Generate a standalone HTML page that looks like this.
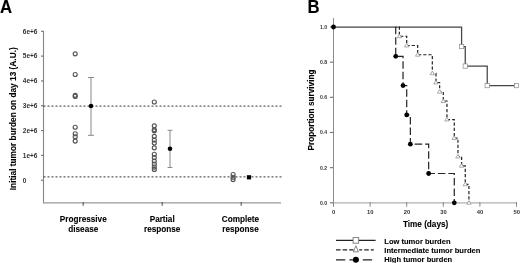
<!DOCTYPE html><html><head><meta charset="utf-8"><style>html,body{margin:0;padding:0;background:#fff;}svg{display:block;}text{font-family:"Liberation Sans",sans-serif;}.b{stroke:#000;stroke-width:0.1px;}</style></head><body>
<svg width="520" height="263" viewBox="0 0 520 263">
<defs><filter id="bl" x="0" y="0" width="520" height="263" filterUnits="userSpaceOnUse"><feGaussianBlur stdDeviation="0.3 0.4"/></filter></defs>
<rect width="520" height="263" fill="#fff"/>
<g filter="url(#bl)">
<text transform="translate(0,12.8) scale(0.93,1)" font-size="18" font-weight="bold" fill="#000" class="b">A</text>
<text transform="translate(307.4,12.8) scale(0.93,1)" font-size="18" font-weight="bold" fill="#000" class="b">B</text>
<line x1="43.5" y1="31" x2="43.5" y2="203.3" stroke="#858585" stroke-width="1.1"/>
<line x1="43" y1="202.8" x2="281" y2="202.8" stroke="#999" stroke-width="1.3"/>
<line x1="41" y1="31.30" x2="43.5" y2="31.30" stroke="#7a7a7a" stroke-width="1.2"/>
<text x="22.8" y="33.60" font-size="6.5" font-weight="bold" fill="#333">6e+6</text>
<line x1="41" y1="56.12" x2="43.5" y2="56.12" stroke="#7a7a7a" stroke-width="1.2"/>
<text x="22.8" y="58.42" font-size="6.5" font-weight="bold" fill="#333">5e+6</text>
<line x1="41" y1="80.94" x2="43.5" y2="80.94" stroke="#7a7a7a" stroke-width="1.2"/>
<text x="22.8" y="83.24" font-size="6.5" font-weight="bold" fill="#333">4e+6</text>
<line x1="41" y1="105.76" x2="43.5" y2="105.76" stroke="#7a7a7a" stroke-width="1.2"/>
<text x="22.8" y="108.06" font-size="6.5" font-weight="bold" fill="#333">3e+6</text>
<line x1="41" y1="130.58" x2="43.5" y2="130.58" stroke="#7a7a7a" stroke-width="1.2"/>
<text x="22.8" y="132.88" font-size="6.5" font-weight="bold" fill="#333">2e+6</text>
<line x1="41" y1="155.40" x2="43.5" y2="155.40" stroke="#7a7a7a" stroke-width="1.2"/>
<text x="22.8" y="157.70" font-size="6.5" font-weight="bold" fill="#333">1e+6</text>
<line x1="41" y1="180.22" x2="43.5" y2="180.22" stroke="#7a7a7a" stroke-width="1.2"/>
<text x="22.8" y="182.52" font-size="6.5" font-weight="bold" fill="#333">0</text>
<line x1="83.2" y1="202" x2="83.2" y2="205.7" stroke="#555" stroke-width="1.1"/>
<line x1="162.2" y1="202" x2="162.2" y2="205.7" stroke="#555" stroke-width="1.1"/>
<line x1="241.2" y1="202" x2="241.2" y2="205.7" stroke="#555" stroke-width="1.1"/>
<line x1="43.5" y1="106.1" x2="281.5" y2="106.1" stroke="#333" stroke-width="1" stroke-dasharray="2 2"/>
<line x1="43.5" y1="176.9" x2="281.5" y2="176.9" stroke="#333" stroke-width="1" stroke-dasharray="2 2"/>
<text x="83.3" y="222" font-size="8.2" font-weight="bold" text-anchor="middle" fill="#000" class="b">Progressive</text>
<text x="83.3" y="231.7" font-size="8.2" font-weight="bold" text-anchor="middle" fill="#000" class="b">disease</text>
<text x="162.2" y="222" font-size="8.2" font-weight="bold" text-anchor="middle" fill="#000" class="b">Partial</text>
<text x="162.2" y="231.7" font-size="8.2" font-weight="bold" text-anchor="middle" fill="#000" class="b">response</text>
<text x="240.5" y="222" font-size="8.2" font-weight="bold" text-anchor="middle" fill="#000" class="b">Complete</text>
<text x="240.5" y="231.7" font-size="8.2" font-weight="bold" text-anchor="middle" fill="#000" class="b">response</text>
<text transform="translate(15.8,118.75) rotate(-90)" font-size="8.3" font-weight="bold" text-anchor="middle" fill="#000" class="b">Initial tumor burden on day 13 (A.U.)</text>
<circle cx="75.2" cy="53.8" r="2.0" fill="none" stroke="#555" stroke-width="1.15"/>
<circle cx="75.2" cy="74.5" r="2.0" fill="none" stroke="#555" stroke-width="1.15"/>
<circle cx="75.2" cy="95.3" r="2.0" fill="none" stroke="#555" stroke-width="1.15"/>
<circle cx="75.2" cy="96.5" r="2.0" fill="none" stroke="#555" stroke-width="1.15"/>
<circle cx="75.2" cy="127.2" r="2.0" fill="none" stroke="#555" stroke-width="1.15"/>
<circle cx="75.2" cy="133.7" r="2.0" fill="none" stroke="#555" stroke-width="1.15"/>
<circle cx="75.2" cy="136.7" r="2.0" fill="none" stroke="#555" stroke-width="1.15"/>
<circle cx="75.2" cy="141.1" r="2.0" fill="none" stroke="#555" stroke-width="1.15"/>
<circle cx="154.3" cy="102" r="2.0" fill="none" stroke="#555" stroke-width="1.15"/>
<circle cx="154.3" cy="125.8" r="2.0" fill="none" stroke="#555" stroke-width="1.15"/>
<circle cx="154.3" cy="129.8" r="2.0" fill="none" stroke="#555" stroke-width="1.15"/>
<circle cx="154.3" cy="130.8" r="2.0" fill="none" stroke="#555" stroke-width="1.15"/>
<circle cx="154.3" cy="136.3" r="2.0" fill="none" stroke="#555" stroke-width="1.15"/>
<circle cx="154.3" cy="140.1" r="2.0" fill="none" stroke="#555" stroke-width="1.15"/>
<circle cx="154.3" cy="143.1" r="2.0" fill="none" stroke="#555" stroke-width="1.15"/>
<circle cx="154.3" cy="147.8" r="2.0" fill="none" stroke="#555" stroke-width="1.15"/>
<circle cx="154.3" cy="154.2" r="2.0" fill="none" stroke="#555" stroke-width="1.15"/>
<circle cx="154.3" cy="157.6" r="2.0" fill="none" stroke="#555" stroke-width="1.15"/>
<circle cx="154.3" cy="161" r="2.0" fill="none" stroke="#555" stroke-width="1.15"/>
<circle cx="154.3" cy="164" r="2.0" fill="none" stroke="#555" stroke-width="1.15"/>
<circle cx="154.3" cy="167.1" r="2.0" fill="none" stroke="#555" stroke-width="1.15"/>
<circle cx="154.3" cy="169.4" r="2.0" fill="none" stroke="#555" stroke-width="1.15"/>
<circle cx="233.1" cy="174.5" r="2.0" fill="none" stroke="#555" stroke-width="1.15"/>
<circle cx="233.1" cy="177.2" r="2.0" fill="none" stroke="#555" stroke-width="1.15"/>
<circle cx="233.1" cy="179.6" r="2.0" fill="none" stroke="#555" stroke-width="1.15"/>
<line x1="91" y1="77.5" x2="91" y2="135.3" stroke="#888" stroke-width="1"/>
<line x1="88" y1="77.5" x2="94" y2="77.5" stroke="#888" stroke-width="1"/>
<line x1="88" y1="135.3" x2="94" y2="135.3" stroke="#888" stroke-width="1"/>
<line x1="170" y1="130.3" x2="170" y2="167.5" stroke="#888" stroke-width="1"/>
<line x1="167.6" y1="130.3" x2="172.4" y2="130.3" stroke="#888" stroke-width="1"/>
<line x1="167.6" y1="167.5" x2="172.4" y2="167.5" stroke="#888" stroke-width="1"/>
<circle cx="91" cy="106" r="2.3" fill="#000"/>
<circle cx="170" cy="148.8" r="2.3" fill="#000"/>
<rect x="246.9" y="175.2" width="4.2" height="4.2" fill="#000"/>
<line x1="333.5" y1="18" x2="333.5" y2="206.3" stroke="#8c8c8c" stroke-width="1.05"/>
<line x1="333.5" y1="202.8" x2="517" y2="202.8" stroke="#b0b0b0" stroke-width="1.3"/>
<line x1="330" y1="27.00" x2="333.5" y2="27.00" stroke="#7a7a7a" stroke-width="1.2"/>
<text x="320.1" y="29.00" font-size="5.8" font-weight="bold" fill="#333" textLength="7.1" lengthAdjust="spacingAndGlyphs">1.0</text>
<line x1="330" y1="62.16" x2="333.5" y2="62.16" stroke="#7a7a7a" stroke-width="1.2"/>
<text x="320.1" y="64.16" font-size="5.8" font-weight="bold" fill="#333" textLength="7.1" lengthAdjust="spacingAndGlyphs">0.8</text>
<line x1="330" y1="97.32" x2="333.5" y2="97.32" stroke="#7a7a7a" stroke-width="1.2"/>
<text x="320.1" y="99.32" font-size="5.8" font-weight="bold" fill="#333" textLength="7.1" lengthAdjust="spacingAndGlyphs">0.6</text>
<line x1="330" y1="132.48" x2="333.5" y2="132.48" stroke="#7a7a7a" stroke-width="1.2"/>
<text x="320.1" y="134.48" font-size="5.8" font-weight="bold" fill="#333" textLength="7.1" lengthAdjust="spacingAndGlyphs">0.4</text>
<line x1="330" y1="167.64" x2="333.5" y2="167.64" stroke="#7a7a7a" stroke-width="1.2"/>
<text x="320.1" y="169.64" font-size="5.8" font-weight="bold" fill="#333" textLength="7.1" lengthAdjust="spacingAndGlyphs">0.2</text>
<line x1="330" y1="202.80" x2="333.5" y2="202.80" stroke="#7a7a7a" stroke-width="1.2"/>
<text x="320.1" y="204.80" font-size="5.8" font-weight="bold" fill="#333" textLength="7.1" lengthAdjust="spacingAndGlyphs">0.0</text>
<line x1="333.50" y1="202" x2="333.50" y2="206.7" stroke="#888" stroke-width="1.0"/>
<text x="333.70" y="214.05" font-size="5.8" font-weight="bold" text-anchor="middle" fill="#333">0</text>
<line x1="370.10" y1="202" x2="370.10" y2="206.7" stroke="#888" stroke-width="1.0"/>
<text x="370.30" y="214.05" font-size="5.8" font-weight="bold" text-anchor="middle" fill="#333">10</text>
<line x1="406.70" y1="202" x2="406.70" y2="206.7" stroke="#888" stroke-width="1.0"/>
<text x="406.90" y="214.05" font-size="5.8" font-weight="bold" text-anchor="middle" fill="#333">20</text>
<line x1="443.30" y1="202" x2="443.30" y2="206.7" stroke="#888" stroke-width="1.0"/>
<text x="443.50" y="214.05" font-size="5.8" font-weight="bold" text-anchor="middle" fill="#333">30</text>
<line x1="479.90" y1="202" x2="479.90" y2="206.7" stroke="#888" stroke-width="1.0"/>
<text x="480.10" y="214.05" font-size="5.8" font-weight="bold" text-anchor="middle" fill="#333">40</text>
<line x1="516.50" y1="202" x2="516.50" y2="206.7" stroke="#888" stroke-width="1.0"/>
<text x="516.70" y="214.05" font-size="5.8" font-weight="bold" text-anchor="middle" fill="#333">50</text>
<text x="425.6" y="226.7" font-size="8.2" font-weight="bold" text-anchor="middle" fill="#000" class="b">Time (days)</text>
<text transform="translate(314.2,110.0) rotate(-90)" font-size="8.25" font-weight="bold" text-anchor="middle" fill="#000" class="b">Proportion surviving</text>
<polyline points="333.50,27.00 461.60,27.00 461.60,46.53 465.26,46.53 465.26,66.07 487.22,66.07 487.22,85.60 516.50,85.60" fill="none" stroke="#444" stroke-width="1.25"/>
<polyline points="399.01,27.00 399.38,27.00 399.38,36.25 406.70,36.25 406.70,45.51 417.68,45.51 417.68,54.76 432.32,54.76 432.32,73.26 435.98,73.26 435.98,82.52 439.64,82.52 439.64,91.77 443.30,91.77 443.30,101.02 446.96,101.02 446.96,119.53 454.28,119.53 454.28,138.03 457.94,138.03 457.94,156.54 461.60,156.54 461.60,165.79 465.26,165.79 465.26,184.29 468.92,184.29 468.92,202.80" fill="none" stroke="#222" stroke-width="1.2" stroke-dasharray="3.2 2"/>
<polyline points="395.35,27.00 395.72,27.00 395.72,56.30 403.04,56.30 403.04,85.60 406.70,85.60 406.70,114.90 410.36,114.90 410.36,144.20 428.66,144.20 428.66,173.50 454.28,173.50 454.28,202.80" fill="none" stroke="#222" stroke-width="1.2" stroke-dasharray="7.5 3"/>
<rect x="459.45" y="44.38" width="4.3" height="4.3" fill="#fff" stroke="#888" stroke-width="0.7"/>
<rect x="463.11" y="63.92" width="4.3" height="4.3" fill="#fff" stroke="#888" stroke-width="0.7"/>
<rect x="485.07" y="83.45" width="4.3" height="4.3" fill="#fff" stroke="#888" stroke-width="0.7"/>
<rect x="514.35" y="83.45" width="4.3" height="4.3" fill="#fff" stroke="#888" stroke-width="0.7"/>
<polygon points="399.38,34.09 401.63,37.69 397.13,37.69" fill="#fff" stroke="#888" stroke-width="0.7"/>
<polygon points="406.70,43.35 408.95,46.95 404.45,46.95" fill="#fff" stroke="#888" stroke-width="0.7"/>
<polygon points="417.68,52.60 419.93,56.20 415.43,56.20" fill="#fff" stroke="#888" stroke-width="0.7"/>
<polygon points="432.32,71.10 434.57,74.70 430.07,74.70" fill="#fff" stroke="#888" stroke-width="0.7"/>
<polygon points="435.98,80.36 438.23,83.96 433.73,83.96" fill="#fff" stroke="#888" stroke-width="0.7"/>
<polygon points="439.64,89.61 441.89,93.21 437.39,93.21" fill="#fff" stroke="#888" stroke-width="0.7"/>
<polygon points="443.30,98.86 445.55,102.46 441.05,102.46" fill="#fff" stroke="#888" stroke-width="0.7"/>
<polygon points="446.96,117.37 449.21,120.97 444.71,120.97" fill="#fff" stroke="#888" stroke-width="0.7"/>
<polygon points="454.28,135.87 456.53,139.47 452.03,139.47" fill="#fff" stroke="#888" stroke-width="0.7"/>
<polygon points="457.94,154.38 460.19,157.98 455.69,157.98" fill="#fff" stroke="#888" stroke-width="0.7"/>
<polygon points="461.60,163.63 463.85,167.23 459.35,167.23" fill="#fff" stroke="#888" stroke-width="0.7"/>
<polygon points="465.26,182.13 467.51,185.73 463.01,185.73" fill="#fff" stroke="#888" stroke-width="0.7"/>
<polygon points="468.92,200.64 471.17,204.24 466.67,204.24" fill="#fff" stroke="#888" stroke-width="0.7"/>
<circle cx="333.50" cy="27.00" r="2.4" fill="#000"/>
<circle cx="395.72" cy="56.30" r="2.4" fill="#000"/>
<circle cx="403.04" cy="85.60" r="2.4" fill="#000"/>
<circle cx="406.70" cy="114.90" r="2.4" fill="#000"/>
<circle cx="410.36" cy="144.20" r="2.4" fill="#000"/>
<circle cx="428.66" cy="173.50" r="2.4" fill="#000"/>
<circle cx="454.28" cy="202.80" r="2.4" fill="#000"/>
<line x1="336" y1="240.4" x2="375.6" y2="240.4" stroke="#222" stroke-width="1.2"/>
<rect x="353.10" y="237.60" width="5.6" height="5.6" fill="#fff" stroke="#666" stroke-width="0.8"/>
<line x1="336" y1="249.9" x2="353.6" y2="249.9" stroke="#222" stroke-width="1.2" stroke-dasharray="4.6 2"/>
<line x1="359.2" y1="249.9" x2="375.6" y2="249.9" stroke="#222" stroke-width="1.2" stroke-dasharray="3 2 4.6 2"/>
<polygon points="355.90,245.74 358.45,251.84 353.35,251.84" fill="#fff" stroke="#666" stroke-width="0.8"/>
<line x1="336" y1="259.8" x2="375.6" y2="259.8" stroke="#222" stroke-width="1.2" stroke-dasharray="9.3 4.1"/>
<circle cx="355.9" cy="259.8" r="3" fill="#000"/>
<text x="384.3" y="243.8" font-size="7.55" font-weight="bold" fill="#000" class="b">Low tumor burden</text>
<text x="384.3" y="252.8" font-size="7.55" font-weight="bold" fill="#000" class="b">Intermediate tumor burden</text>
<text x="384.3" y="262" font-size="7.55" font-weight="bold" fill="#000" class="b">High tumor burden</text>
</g>
</svg></body></html>
